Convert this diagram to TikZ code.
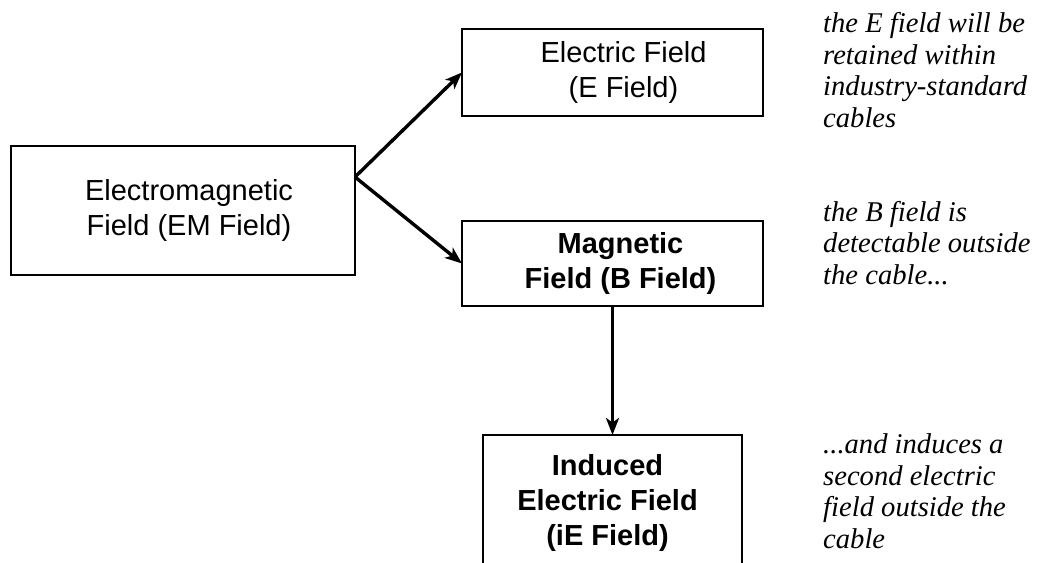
\documentclass[tikz,border=0pt]{standalone}
\usepackage{fontspec}
\setmainfont{Liberation Serif}
\setsansfont{Liberation Sans}
\usetikzlibrary{arrows.meta}
\begin{document}
\begin{tikzpicture}[x=1pt,y=-1pt,
  box/.style={draw=black,line width=1.7pt,rectangle,inner sep=0pt,outer sep=0pt},
  boxtext/.style={font=\sffamily\fontsize{29}{35}\selectfont,align=center,inner sep=0pt},
  note/.style={font=\rmfamily\itshape\fontsize{28.6}{31.5}\selectfont,align=left,anchor=base west,inner sep=0pt},
  link/.style={line width=3.4pt,-{Stealth[length=17pt,width=13pt,inset=4.5pt]}}]
\useasboundingbox (0,0) rectangle (1040,562);
\clip (0,0) rectangle (1040,562);
\fill[white] (0,0) rectangle (1040,562);

\node[box,minimum width=344pt,minimum height=129pt,
  label={[boxtext,xshift=6pt]center:{Electromagnetic\\Field (EM Field)}}] (em) at (183,210.5) {};
\node[box,minimum width=301pt,minimum height=87pt,
  label={[boxtext,xshift=11pt]center:{Electric Field\\(E Field)}}] (e) at (612.5,72.5) {};
\node[box,minimum width=301pt,minimum height=85pt,
  label={[boxtext,font=\sffamily\bfseries\fontsize{29}{35}\selectfont,xshift=8pt]center:{Magnetic\\Field (B Field)}}] (b) at (612.5,263.5) {};
\node[box,minimum width=259pt,minimum height=135pt,
  label={[boxtext,font=\sffamily\bfseries\fontsize{29}{35}\selectfont,xshift=-5pt]center:{Induced\\Electric Field\\(iE Field)}}] (ie) at (612.5,502.5) {};

\coordinate (fork) at (em.east |- 0,177);
\draw[link] (fork) -- (e.west);
\draw[link] (fork) -- (b.west);
\draw[link] (b.south) -- (ie.north);

\node[note] (n1) at (823,127) {the E field will be\\retained within\\industry-standard\\cables};
\node[note] (n2) at (823,284) {the B field is\\detectable outside\\the cable...};
\node[note] (n3) at (823,548) {...and induces a\\second electric\\field outside the\\cable};
\end{tikzpicture}
\end{document}
